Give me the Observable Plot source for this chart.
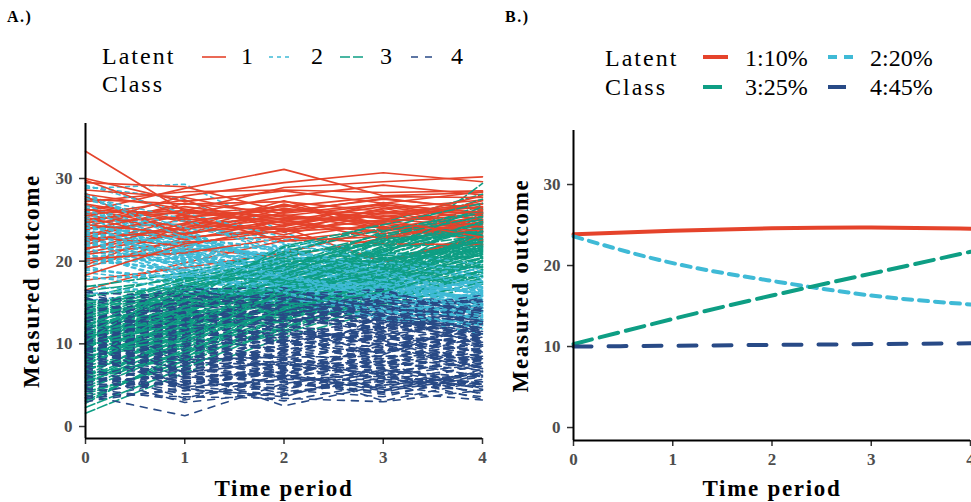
<!DOCTYPE html>
<html><head><meta charset="utf-8">
<script src="https://cdn.jsdelivr.net/npm/d3@7"></script>
<script src="https://cdn.jsdelivr.net/npm/@observablehq/plot@0.6"></script>
<style>
body{margin:0;background:#fff;}
#wrap{position:relative;width:971px;height:502px;overflow:hidden;font-family:"Liberation Serif",serif;background:#fff;}
.panel{position:absolute;top:110px;}
.panel g[aria-label$="tick label"] text{font-size:17px;fill:#4D4D4D;font-weight:bold;}
#legend{position:absolute;left:0;top:0;}
</style></head><body><div id="wrap"></div>
<script>
// ---------- data ----------
const times = [0, 1, 2, 3, 4];
const xTicks = [0, 1, 2, 3, 4];
const yTicks = [0, 10, 20, 30];
const classNames = ["1", "2", "3", "4"];
const classShares = ["10%", "20%", "25%", "45%"];
const classColors = ["#E5432B", "#3FBAD6", "#0E9E84", "#284A86"];
const dashA = [null, "4,4", "10,3", "7,7"];
const dashB = [null, "9,7", "19,8", "18,17"];

// Panel A: individual trajectories (values at times 0..4)
const class1Traj = [
[33.3,26.0,25.5,26.8,25.9],[30.0,27.2,28.5,27.0,28.4],[29.8,25.4,26.3,25.1,27.0],[29.5,29.0,26.0,27.5,26.4],
[26.0,28.8,31.1,27.9,28.3],[24.5,27.9,29.5,30.7,29.6],[25.8,26.1,28.9,29.6,30.2],[27.2,28.4,28.6,28.3,28.5],
[22.9,25.7,27.8,29.2,28.0],[21.0,23.5,24.2,26.3,27.4],[16.5,19.8,22.5,23.8,24.6],[17.7,19.2,21.0,23.9,25.8],
[20.0,21.5,20.5,22.8,23.5],[19.2,22.8,24.0,19.9,23.0],[24.0,24.5,25.2,24.8,25.6],[23.5,22.9,23.6,24.2,23.1],
[25.1,25.9,24.7,25.5,24.4],[22.4,24.1,25.5,24.0,22.6],[26.7,24.8,23.9,25.9,26.5],[21.6,23.3,26.4,25.2,24.0],
[24.9,26.6,25.0,23.3,25.1],[23.0,21.8,24.4,26.1,23.8],[25.6,23.7,26.9,24.5,22.5],[28.1,26.3,24.6,23.6,25.4],
[22.0,25.2,23.2,25.8,26.9],[24.2,27.0,25.8,26.9,24.9],[20.8,22.3,23.0,22.1,22.0],[26.3,24.0,27.3,24.1,23.4],
[23.2,25.6,22.4,23.0,24.7],[27.8,23.1,25.9,27.6,26.2],[19.5,24.4,23.8,24.9,27.9],[25.3,22.6,24.9,26.6,25.0],
[24.7,25.3,26.2,25.7,26.0],[23.8,26.2,24.3,27.1,25.5],[26.9,25.0,25.6,24.4,27.3],[21.4,24.6,26.8,23.9,24.2],
[25.5,27.4,23.5,26.4,24.1],[22.6,23.9,25.1,25.4,26.6],[27.5,26.9,27.2,26.0,25.8],[20.3,21.0,22.8,24.6,23.6],
[24.4,23.3,24.9,22.7,24.8],[26.2,25.7,26.6,27.8,27.7],[18.3,22.1,23.7,25.0,22.9],[28.6,27.7,25.3,24.7,26.1]
];
const class2Traj = [
[28.8,29.3,23.5,19.2,17.0],[29.0,27.5,22.0,20.1,18.3],[27.4,24.8,21.6,18.4,16.9],[26.5,22.1,20.3,19.5,17.8],
[25.9,23.6,19.0,17.2,15.5],[25.2,21.4,21.8,16.9,16.2],[24.8,20.2,18.5,18.0,14.8],[24.3,22.7,17.6,15.8,15.9],
[23.9,19.8,19.9,17.5,13.9],[23.6,21.0,16.9,16.4,16.6],[23.1,18.9,18.2,14.9,15.0],[22.8,20.6,19.4,17.9,14.2],
[22.5,19.1,17.0,16.0,16.8],[22.0,20.9,18.8,15.2,13.6],[21.6,18.3,16.4,16.8,15.3],[21.2,19.6,17.9,14.6,14.0],
[20.7,17.7,16.1,15.5,12.9],[20.1,18.8,15.4,13.8,13.2],[19.4,16.9,15.9,14.1,11.8],[18.6,17.4,14.8,13.3,12.4],
[17.0,16.2,15.2,12.9,12.0],[16.0,17.1,14.4,13.5,11.2],[15.2,16.5,16.8,14.3,13.0],[26.9,21.9,20.8,17.4,16.1],
[28.2,23.2,19.6,18.9,17.4],[25.5,24.3,22.6,20.5,19.0],[24.1,22.9,21.1,19.1,18.6],[23.3,21.7,20.6,18.6,17.3],
[22.2,22.4,18.0,17.0,16.4],[21.9,20.3,19.1,16.2,15.7],[27.0,20.8,17.3,15.1,14.5],[26.2,19.4,16.6,17.6,15.1],
[24.6,21.2,20.0,16.6,13.4],[23.0,23.9,18.7,17.8,14.7],[22.3,18.5,17.5,15.6,16.0],[20.4,19.9,18.1,16.3,14.4],
[19.8,21.5,17.2,15.0,15.6],[18.9,18.0,16.0,14.7,13.7],[25.0,20.0,21.3,18.2,15.8],[29.2,25.8,22.9,21.0,19.6],
[26.0,22.6,18.4,19.8,18.0],[21.0,17.2,15.7,13.1,12.6],[23.7,24.9,20.7,18.8,17.1],[24.9,18.6,19.3,17.1,16.5],
[22.6,21.3,16.7,15.4,14.1],
[27.8,25.1,21.0,18.1,16.7],[26.7,23.0,19.8,18.5,17.2],[25.7,22.2,20.5,17.8,16.0],[24.4,21.8,18.9,16.8,15.2],
[23.4,20.5,19.0,17.3,15.4],[22.9,19.4,17.8,16.6,14.9],[22.1,21.1,18.6,15.9,15.8],[21.4,20.1,17.4,16.5,13.8],
[20.9,18.2,16.9,14.2,14.6],[20.2,19.0,16.3,15.7,12.8],[19.1,17.8,17.1,14.4,13.9],[18.2,16.6,15.5,13.9,12.2],
[24.0,23.4,19.7,18.3,16.3],[25.3,20.9,20.2,16.1,17.6],[26.3,21.6,17.9,17.0,14.3],[23.5,22.0,21.4,19.4,18.1],
[21.8,23.0,19.2,17.7,16.9],[22.7,18.1,18.3,15.3,13.5],[27.6,24.0,22.2,19.9,18.8],[20.5,21.2,16.5,16.9,15.5],
[19.6,20.4,18.4,15.8,14.6],[24.5,19.7,17.0,17.3,16.2],[28.0,22.8,21.5,18.7,15.9],[17.8,18.4,16.2,14.0,13.3],
[23.2,20.7,18.0,15.6,17.7]
];
const class3Traj = [
[1.6,6.5,10.8,14.0,17.2],[3.5,8.0,12.4,15.1,18.5],[4.8,9.8,13.0,16.9,19.6],[5.9,8.7,14.6,17.4,20.3],
[6.7,11.2,13.9,15.8,18.9],[7.3,10.4,15.5,18.6,21.0],[7.9,12.5,14.2,19.3,20.7],[8.4,11.0,16.8,17.9,22.4],
[8.8,13.7,15.1,20.2,23.0],[9.2,12.1,17.3,18.2,21.5],[9.5,14.2,16.0,19.8,22.8],[9.9,11.6,15.8,17.1,20.1],
[10.2,13.1,18.0,21.3,24.1],[10.5,15.0,16.6,18.8,22.2],[10.8,12.8,15.3,20.6,21.9],[11.1,14.5,17.7,19.4,23.6],
[11.4,13.3,14.8,18.5,20.9],[11.7,15.6,18.4,21.7,24.7],[12.0,13.9,17.0,19.0,22.6],[12.3,16.2,16.3,20.9,21.2],
[12.7,14.8,19.2,22.1,25.3],[13.1,15.9,17.6,20.0,23.3],[13.6,16.8,18.8,22.8,24.4],[14.2,17.5,20.1,21.0,25.8],
[14.9,16.4,19.5,23.4,23.9],[15.6,18.3,20.7,22.4,26.3],[16.4,17.9,21.6,24.0,25.0],[2.8,9.1,11.6,16.2,19.3],
[4.2,7.4,13.5,15.4,17.9],[5.3,10.2,11.9,17.6,18.1],[6.2,11.9,12.8,16.5,20.5],[7.0,9.5,14.0,17.0,19.9],
[8.1,13.0,13.2,18.0,21.7],[9.0,10.7,16.2,16.1,20.0],[9.7,12.7,15.0,19.6,19.2],[10.4,14.0,17.9,20.5,29.4],
[11.0,12.3,14.3,17.7,21.4],[11.8,15.2,16.9,21.9,22.0],[12.5,13.6,19.0,19.9,24.9],[13.3,16.6,15.6,18.4,21.8],
[14.0,14.9,18.1,21.5,23.1],[6.4,8.2,15.9,15.7,18.7],[7.6,12.2,12.6,18.9,22.5],[8.6,10.0,17.5,20.4,20.6],
[9.4,15.4,14.5,16.8,23.7],[10.0,11.4,18.6,19.2,22.9],[10.7,16.0,16.1,23.1,21.1],[11.5,13.8,20.3,20.8,24.2],
[12.2,11.8,17.2,18.7,25.6],[13.8,17.2,19.8,17.3,22.1],[15.2,15.3,16.4,22.6,26.8],[5.0,11.5,13.6,18.1,20.4],
[3.9,7.9,14.9,14.6,17.5],[16.9,18.6,21.2,23.8,27.5],[12.9,14.4,20.8,24.7,28.1],
[2.3,7.1,12.0,15.6,18.2],[3.1,8.6,11.3,14.8,19.0],[4.5,9.3,12.9,16.4,18.8],[5.6,10.9,13.8,17.2,21.3],
[6.9,9.9,15.2,18.1,19.4],[7.7,11.5,13.6,16.6,21.1],[8.3,12.4,16.5,19.5,22.0],[8.9,11.3,14.6,18.3,23.4],
[9.6,13.4,17.0,20.1,21.6],[10.1,12.6,15.9,19.7,22.7],[10.6,14.4,16.7,18.0,23.8],[11.2,13.0,18.2,21.2,24.5],
[11.9,15.8,17.4,20.3,22.3],[12.4,14.1,16.0,21.8,25.1],[13.0,16.3,19.3,20.7,24.0],[13.5,15.5,18.5,22.3,23.5],
[14.5,17.8,20.4,23.2,25.9],[15.8,16.9,21.0,22.0,24.6],[9.1,10.4,14.1,17.5,20.8],[10.9,13.5,19.6,22.5,23.2],
[7.4,13.3,15.7,19.1,22.8],[12.1,17.0,18.9,23.6,26.1],[6.0,10.6,16.4,18.7,21.8],[8.0,14.6,17.1,21.1,24.8],
[11.3,16.5,20.0,20.0,22.4],[9.8,12.0,18.3,23.0,25.4],[13.9,18.0,17.8,21.4,26.6],[5.5,9.0,14.4,16.3,19.7],
[14.7,15.1,21.8,24.4,27.0],[10.3,17.6,19.4,22.7,23.6]
];
const class4Traj = [
[3.2,5.8,7.1,6.5,8.0],[3.8,1.3,5.2,6.8,5.9],[4.4,6.6,2.5,5.0,6.2],[5.0,5.2,6.9,3.1,5.5],
[5.5,7.4,5.8,6.1,3.3],[6.0,4.3,7.8,4.4,6.7],[6.3,8.2,6.0,7.5,4.6],[6.7,6.1,4.0,5.6,7.3],
[7.0,9.0,8.3,6.9,5.1],[7.3,5.0,6.5,8.6,7.9],[7.6,7.7,9.4,5.3,6.4],[7.9,10.1,7.3,9.2,8.6],
[8.1,6.8,8.8,7.8,9.8],[8.3,8.9,5.6,10.4,7.0],[8.5,11.3,10.2,8.1,10.9],[8.7,7.2,9.9,11.2,8.3],
[8.9,9.6,7.0,9.0,11.5],[9.1,12.0,11.1,10.0,9.2],[9.2,8.0,8.6,12.0,10.4],[9.4,10.6,12.3,9.7,12.1],
[9.5,9.3,9.6,11.6,8.8],[9.7,11.8,10.8,13.0,11.0],[9.8,7.9,11.9,8.7,12.7],[9.9,10.9,9.0,10.9,9.6],
[10.0,12.7,12.9,11.8,13.4],[10.1,9.1,10.5,12.9,10.1],[10.2,13.5,11.4,10.3,14.0],[10.3,10.4,13.6,13.7,12.4],
[10.4,11.5,9.8,12.5,11.3],[10.5,14.2,12.6,14.3,13.1],[10.6,8.6,10.9,9.5,11.8],[10.7,12.4,14.2,11.4,14.6],
[10.8,10.2,8.2,13.4,9.9],[10.9,13.1,13.1,15.0,12.8],[11.0,11.0,11.7,10.6,13.9],[11.1,14.8,14.8,12.2,11.6],
[11.2,9.8,12.0,14.8,15.0],[11.4,12.9,15.4,13.1,10.7],[11.5,15.3,10.3,11.9,14.3],[11.7,11.7,13.3,16.0,12.2],
[11.8,16.0,16.6,14.0,13.7],[12.0,13.6,12.8,12.8,15.4],[12.2,10.8,15.0,16.3,12.9],[12.4,14.0,13.8,13.9,14.8],
[12.6,16.9,11.5,15.3,13.0],[12.9,12.6,14.5,12.4,15.2],[13.2,15.1,16.0,14.7,11.9],[13.5,13.3,12.2,15.6,14.5],
[13.9,14.5,15.7,13.3,12.6],[14.3,17.0,13.9,15.9,14.9],[14.8,12.3,14.1,11.7,13.6],[15.3,15.8,16.3,14.5,11.4],
[15.9,14.1,12.7,13.6,10.5],[16.5,13.0,15.1,12.7,12.0],[3.0,4.7,5.5,4.2,3.2],[4.0,3.6,3.4,3.0,4.4],
[4.7,5.6,4.6,7.2,5.0],[5.3,6.3,6.2,4.7,7.6],[5.8,4.9,3.8,6.3,4.0],[6.5,7.0,7.6,5.8,8.9],
[6.9,5.5,5.0,8.0,6.0],[7.4,8.5,7.7,6.7,7.7],[7.8,6.4,9.1,7.3,9.4],[8.2,9.4,6.4,9.9,6.6],
[8.6,7.5,10.6,8.4,10.0],[9.0,10.3,8.0,7.1,8.4],[9.3,8.4,9.2,10.7,9.0],[9.6,11.0,10.0,8.9,10.8],
[10.0,9.7,11.2,11.0,7.4],[10.2,7.3,8.9,9.3,11.1],[10.5,11.9,10.4,7.7,9.5],[10.9,8.8,11.8,10.2,8.1],
[11.3,10.5,9.5,12.1,10.3],[11.6,9.2,12.4,9.8,11.7],[12.1,11.2,10.7,11.5,9.7],[12.5,12.1,13.0,12.6,12.3],
[13.0,11.4,11.3,10.8,10.2],[13.7,12.8,12.9,13.5,11.2],[14.6,13.7,10.1,12.3,13.3],[15.6,11.6,13.7,11.1,12.5],
[6.1,3.9,4.8,5.4,4.8],[8.0,6.0,5.4,4.1,6.9],[9.9,5.9,6.6,6.0,5.3],[11.9,7.8,7.4,7.9,6.1],
[7.1,9.9,8.5,9.6,7.2],[12.8,8.1,8.4,8.5,8.7],
[3.5,6.9,5.9,7.7,6.8],[4.2,5.4,7.4,6.4,8.2],[4.9,7.9,6.3,8.3,7.1],[5.4,6.2,8.1,7.0,9.1],
[5.9,8.6,7.2,9.4,8.0],[6.4,7.1,9.6,8.2,10.2],[6.8,9.8,8.0,10.1,9.3],[7.2,8.3,10.4,9.1,11.2],
[7.5,10.7,9.3,11.0,10.0],[7.9,9.2,11.3,10.5,12.0],[8.2,11.6,10.1,12.2,10.9],[8.5,10.0,12.1,11.3,12.9],
[8.8,12.4,11.0,13.1,11.8],[9.0,10.8,13.0,12.0,13.7],[9.3,13.2,11.9,13.8,12.6],[9.5,11.6,13.9,12.8,14.2],
[9.7,14.0,12.7,14.6,13.5],[9.9,12.3,14.7,13.6,14.1],[10.1,13.8,13.5,15.2,12.2],[10.3,11.1,15.2,14.2,13.8],
[10.5,14.6,14.3,12.9,14.7],[10.7,12.9,12.4,15.5,13.2],[10.9,15.5,15.8,13.8,11.5],[11.1,13.4,13.2,14.9,15.3],
[11.3,16.2,14.0,16.1,14.4],[11.5,12.2,16.4,14.4,12.8],[11.8,14.9,15.5,13.0,15.6],[12.0,17.2,13.6,15.4,14.0],
[12.3,13.0,15.9,16.6,13.1],[12.7,15.6,14.4,14.1,15.9],[13.1,14.3,16.5,15.1,14.3],[13.6,16.4,15.3,16.4,13.5],
[14.1,15.0,14.7,14.9,15.1],[14.7,16.6,16.8,13.2,14.1],[15.4,14.8,13.4,15.8,13.9],[16.2,15.7,15.6,14.6,12.7],
[3.4,4.4,3.8,5.9,5.4],[4.6,3.2,5.9,4.9,3.6],[5.7,5.9,4.4,3.6,6.3],[6.6,4.6,3.1,5.2,4.3],
[7.7,6.6,5.3,3.9,5.7],[8.4,5.3,4.5,6.6,3.9],[9.2,6.9,6.1,4.5,6.5],[10.0,4.8,5.7,5.7,4.9],
[6.2,2.9,4.2,5.5,5.1],[7.2,3.4,6.3,4.3,6.0],[8.9,4.6,3.6,6.9,4.5],[11.0,6.5,7.9,6.2,7.5],
[5.1,5.1,6.7,7.9,8.5],[9.4,7.6,6.8,7.4,8.2]
];

// Panel B: estimated class mean trajectories (values at times 0..4)
const meanClass1 = [23.85, 24.3, 24.6, 24.7, 24.55];
const meanClass2 = [23.6, 20.3, 18.1, 16.3, 15.2];
const meanClass3 = [10.3, 13.4, 16.3, 19.0, 21.7];
const meanClass4 = [10.0, 10.1, 10.2, 10.3, 10.4];

// ---------- build ----------
const FONT = "'Liberation Serif', serif";
const trajSets = [class1Traj, class2Traj, class3Traj, class4Traj];
const meanSets = [meanClass1, meanClass2, meanClass3, meanClass4];

const people = [];
trajSets.forEach((set, c) => set.forEach((vals, i) => people.push({
  c, order: (i + 0.5) / set.length,
  rows: vals.map((v, k) => ({t: times[k], y: v, cls: classNames[c]}))
})));
people.sort((a, b) => a.order - b.order || a.c - b.c);

function axisMarks(yDom, dxTitle, dyTitle) {
  return [
    Plot.axisX({ticks: xTicks, tickSize: 6, tickPadding: 6, fontSize: 17, fontWeight: "bold", fill: "#4D4D4D", stroke: "#333", strokeWidth: 1.5, label: null, tickFormat: d => String(d)}),
    Plot.axisY({ticks: yTicks, tickSize: 6, tickPadding: 7, fontSize: 17, fontWeight: "bold", fill: "#4D4D4D", stroke: "#333", strokeWidth: 1.5, label: null, tickFormat: d => String(d)}),
    Plot.ruleX([0], {stroke: "black", strokeWidth: 2}),
    Plot.ruleY([yDom[0]], {stroke: "black", strokeWidth: 2}),
    Plot.text(["Measured outcome"], {text: d => d, frameAnchor: "left", rotate: -90, dx: dxTitle, fontSize: 23, fontWeight: "bold", fill: "black", textAnchor: "middle", lineAnchor: "middle"}),
    Plot.text(["Time period"], {text: d => d, frameAnchor: "bottom", dy: dyTitle, fontSize: 23, fontWeight: "bold", fill: "black", textAnchor: "middle", lineAnchor: "middle"})
  ];
}

const yDomA = [-1.45, 36.65];
const plotA = Plot.plot({
  width: 490, height: 392,
  marginLeft: 85, marginRight: 8, marginTop: 13, marginBottom: 64,
  style: {fontFamily: FONT, fontSize: "17px", background: "transparent", overflow: "visible"},
  x: {domain: [0, 4], axis: null},
  y: {domain: yDomA, axis: null},
  color: {domain: classNames, range: classColors},
  marks: [
    ...people.map(p => Plot.line(p.rows, {x: "t", y: "y", stroke: "cls", strokeWidth: 1.6,
      ...(dashA[p.c] ? {strokeDasharray: dashA[p.c]} : {})})),
    ...axisMarks(yDomA, -54, 50)
  ]
});

const meanRows = meanSets.map((vals, c) => vals.map((v, k) => ({t: times[k], y: v, cls: classNames[c]})));
const yDomB = [-1.6, 36.67];
const plotB = Plot.plot({
  width: 481, height: 392,
  marginLeft: 83, marginRight: 1, marginTop: 20, marginBottom: 62,
  style: {fontFamily: FONT, fontSize: "17px", background: "transparent", overflow: "visible"},
  x: {domain: [0, 4], axis: null},
  y: {domain: yDomB, axis: null},
  color: {domain: classNames, range: classColors},
  marks: [
    ...meanRows.map((rows, c) => Plot.line(rows, {x: "t", y: "y", stroke: "cls", strokeWidth: 4, curve: "natural",
      ...(dashB[c] ? {strokeDasharray: dashB[c]} : {})})),
    ...axisMarks(yDomB, -53, 48)
  ]
});

const wrap = document.getElementById("wrap");
[[plotA, 0], [plotB, 490]].forEach(([svg, left]) => {
  svg.classList.add("panel");
  svg.style.left = left + "px";
  d3.select(svg).selectAll('g[aria-label="text"] text').style("letter-spacing", "1.7px");
  d3.select(svg).selectAll('g[aria-label$="tick label"] text').attr("font-size", 17).style("font-size", "17px").style("font-weight", "bold");
  wrap.appendChild(svg);
});

// ---------- legends & panel tags ----------
const leg = d3.select(wrap).append("svg").attr("id", "legend")
  .attr("width", 971).attr("height", 110)
  .style("font-family", FONT);

function txt(x, y, s, size, opts = {}) {
  return leg.append("text").attr("x", x).attr("y", y).text(s)
    .attr("font-size", size).attr("fill", "black")
    .attr("font-weight", opts.bold ? "bold" : "normal")
    .style("letter-spacing", opts.ls || "0px");
}
txt(7, 22, "A.)", 16, {bold: true, ls: "1.5px"});
txt(505, 22, "B.)", 16, {bold: true, ls: "1.5px"});

// Legend A
txt(102, 64, "Latent", 24, {ls: "2px"});
txt(102, 92, "Class", 24, {ls: "2px"});
const keyAX = [202, 269, 340, 411];
const labAX = [241, 311, 380, 451];
classNames.forEach((n, c) => {
  const l = leg.append("line").attr("x1", keyAX[c]).attr("x2", keyAX[c] + 24)
    .attr("y1", 57).attr("y2", 57).attr("stroke", classColors[c]).attr("stroke-width", 1.6);
  if (dashA[c]) l.attr("stroke-dasharray", dashA[c]);
  txt(labAX[c], 64, n, 24);
});

// Legend B
txt(605, 66, "Latent", 24, {ls: "2px"});
txt(605, 95, "Class", 24, {ls: "2px"});
const keyBX = [703, 828, 703, 828];
const keyBY = [57, 57, 87, 87];
const labBX = [745, 870, 745, 870];
const labBY = [66, 66, 95, 95];
classNames.forEach((n, c) => {
  const l = leg.append("line").attr("x1", keyBX[c]).attr("x2", keyBX[c] + 25)
    .attr("y1", keyBY[c]).attr("y2", keyBY[c]).attr("stroke", classColors[c]).attr("stroke-width", 4);
  if (dashB[c]) l.attr("stroke-dasharray", dashB[c]);
  txt(labBX[c], labBY[c], n + ":" + classShares[c], 24);
});
</script></body></html>
